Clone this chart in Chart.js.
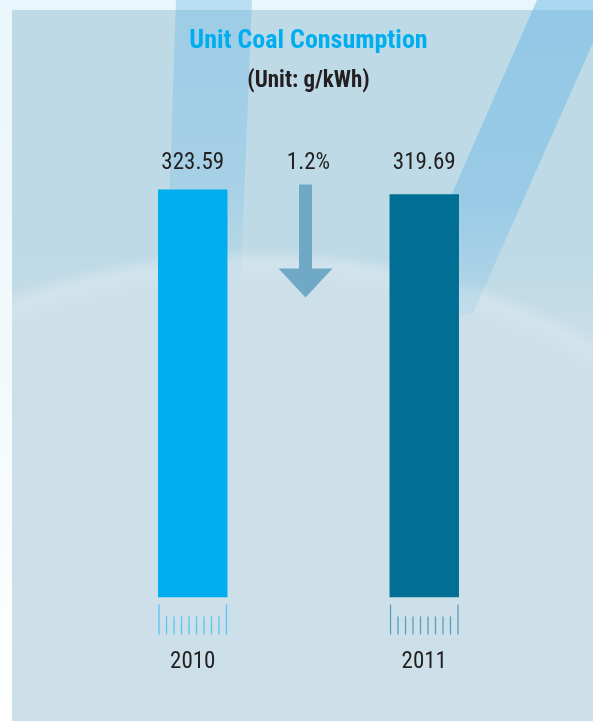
<!DOCTYPE html>
<html lang="en">
<head>
    <meta charset="UTF-8">
    <title>Unit Coal Consumption</title>
    <script src="https://cdn.jsdelivr.net/npm/chart.js"></script>
    <style>
        body {
            margin: 0;
            padding: 0;
            background: #fff;
        }
        .page {
            position: relative;
            width: 593px;
            height: 721px;
            overflow: hidden;
            background: linear-gradient(to bottom, #e9f6fb 0%, #f2f9fc 50%, #ffffff 100%);
        }
        .panel {
            position: absolute;
            left: 12px;
            top: 10px;
            right: 0;
            bottom: 0;
            background: linear-gradient(to bottom, #bddae6 0px, #bddae6 250px, #c8dde8 320px, #cde0ea 100%);
            overflow: hidden;
        }
        .arc {
            position: absolute;
            left: -330px;
            top: 238px;
            width: 1150px;
            height: 900px;
            border-radius: 50%;
            background: radial-gradient(closest-side, #cde0ea 92%, #d1e3ec 97%, rgba(205,224,234,0) 100%);
        }
        .beam {
            position: absolute;
            top: 0;
            left: 0;
            width: 593px;
            height: 721px;
        }
        .beam.left {
            clip-path: polygon(176px 0, 252px 0, 240px 300px, 166px 300px);
            background: linear-gradient(to bottom, rgba(100,180,230,0.36) 0px, rgba(100,180,230,0.26) 180px, rgba(100,180,230,0) 290px);
        }
        .beam.right {
            clip-path: polygon(537px 0, 612px 0, 473px 313px, 392px 330px);
            background: linear-gradient(to bottom, rgba(100,180,230,0.48) 0px, rgba(100,180,230,0.40) 200px, rgba(100,180,230,0.08) 330px);
        }
        canvas {
            position: absolute;
            left: 0;
            top: 0;
        }
    </style>
</head>
<body>
    <div class="page">
        <div class="panel"><div class="arc"></div></div>
        <div class="beam left"></div>
        <div class="beam right"></div>
        <canvas id="coalChart" width="593" height="721"></canvas>
    </div>

    <script>
        const categories = ['2010', '2011'];
        const coalValues = [323.59, 319.69];
        const barColors = ['#00aeef', '#006f93'];
        const combColors = ['#55c6ef', '#5a9ebf'];
        const yMax = 355;

        const FONT = "'Roboto Condensed', Roboto, sans-serif";

        // value labels, change arrow and the little comb under each bar
        const decorPlugin = {
            id: 'decor',
            afterDatasetsDraw(chart) {
                const ctx = chart.ctx;
                const meta = chart.getDatasetMeta(0);
                const labelY = chart.scales.y.getPixelForValue(Math.max(...coalValues)) - 26;

                ctx.save();
                ctx.font = '23px ' + FONT;
                ctx.fillStyle = '#231f20';
                ctx.textAlign = 'center';
                ctx.textBaseline = 'middle';

                meta.data.forEach((bar, i) => {
                    ctx.fillText(coalValues[i].toFixed(2), bar.x, labelY);

                    const left = bar.x - bar.width / 2;
                    const right = bar.x + bar.width / 2;
                    const n = 9;
                    ctx.strokeStyle = combColors[i];
                    ctx.lineWidth = 1.3;
                    for (let k = 0; k <= n; k++) {
                        const x = left + 1 + k * (right - left - 2) / n;
                        const top = (k === 0 || k === n) ? bar.base + 7 : bar.base + 19;
                        ctx.beginPath();
                        ctx.moveTo(x, top);
                        ctx.lineTo(x, bar.base + 37);
                        ctx.stroke();
                    }
                });

                const midX = (meta.data[0].x + meta.data[1].x) / 2;
                const pct = (coalValues[0] - coalValues[1]) / coalValues[0] * 100;
                ctx.fillText(pct.toFixed(1) + '%', midX, labelY);

                // down arrow
                const ax = midX - 3;
                const shaftTop = labelY + 21;
                const tip = labelY + 134;
                const headTop = tip - 29;
                ctx.fillStyle = '#6fa9c6';
                ctx.beginPath();
                ctx.moveTo(ax - 6.5, shaftTop);
                ctx.lineTo(ax + 6.5, shaftTop);
                ctx.lineTo(ax + 6.5, headTop);
                ctx.lineTo(ax + 27, headTop);
                ctx.lineTo(ax, tip);
                ctx.lineTo(ax - 27, headTop);
                ctx.lineTo(ax - 6.5, headTop);
                ctx.closePath();
                ctx.fill();
                ctx.restore();
            }
        };

        new Chart(document.getElementById('coalChart'), {
            type: 'bar',
            data: {
                labels: categories,
                datasets: [{
                    data: coalValues,
                    backgroundColor: barColors,
                    borderWidth: 0,
                    barPercentage: 1,
                    categoryPercentage: 0.3
                }]
            },
            options: {
                responsive: false,
                animation: false,
                layout: {
                    padding: { left: 77, right: 53, top: 0, bottom: -6 }
                },
                plugins: {
                    legend: { display: false },
                    tooltip: { enabled: false },
                    title: {
                        display: true,
                        text: 'Unit Coal Consumption',
                        color: '#00aeef',
                        font: { family: FONT, size: 26, weight: 'bold' },
                        padding: { top: 26, bottom: 0 }
                    },
                    subtitle: {
                        display: true,
                        text: '(Unit: g/kWh)',
                        color: '#231f20',
                        font: { family: FONT, size: 23, weight: 'bold' },
                        padding: { top: 10, bottom: 55 }
                    }
                },
                scales: {
                    x: {
                        grid: { display: false, drawTicks: false },
                        border: { display: false },
                        ticks: {
                            color: '#231f20',
                            font: { family: FONT, size: 23 },
                            padding: 51
                        }
                    },
                    y: {
                        display: false,
                        min: 0,
                        max: yMax
                    }
                }
            },
            plugins: [decorPlugin]
        });
    </script>
</body>
</html>
